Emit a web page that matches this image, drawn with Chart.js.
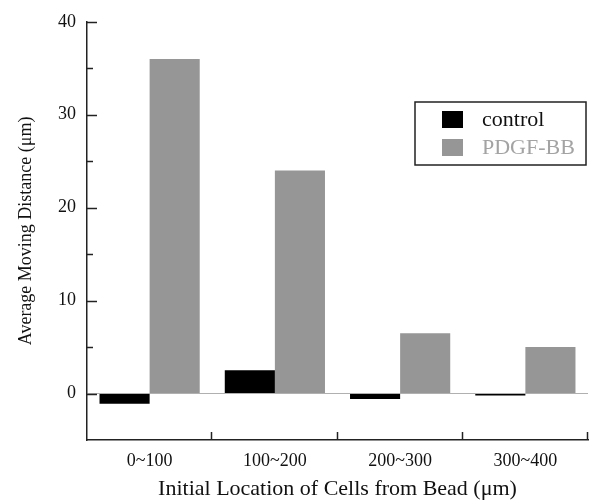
<!DOCTYPE html>
<html>
<head>
<meta charset="utf-8">
<script src="https://cdn.jsdelivr.net/npm/chart.js@4"></script>
<style>
  html, body { margin: 0; padding: 0; background: #fff; }
  #wrap { width: 608px; height: 502px; }
</style>
</head>
<body>
<div id="wrap"><canvas id="c" width="608" height="502"></canvas></div>
<script>
// ---- data ----
const categories = ['0~100', '100~200', '200~300', '300~400'];
const controlValues = [-1.1, 2.5, -0.6, -0.2];
const pdgfValues = [36, 24, 6.5, 5];
const yTickValues = [0, 10, 20, 30, 40];
const seriesNames = ['control', 'PDGF-BB'];
const yTitle = 'Average Moving Distance (\u03bcm)';
const xTitle = 'Initial Location of Cells from Bead (\u03bcm)';

const FONT = "'Liberation Serif', 'Times New Roman', Times, serif";

const tickPlugin = {
  id: 'innerTicks',
  afterDatasetsDraw(chart) {
    const ctx = chart.ctx;
    const y = chart.scales.y, x = chart.scales.x;
    const left = chart.chartArea.left, bottom = chart.chartArea.bottom;
    ctx.save();
    ctx.strokeStyle = '#222';
    ctx.lineWidth = 1.5;
    yTickValues.forEach(v => {
      const py = Math.round(y.getPixelForValue(v)) + 0.5;
      ctx.beginPath(); ctx.moveTo(left, py); ctx.lineTo(left + 10, py); ctx.stroke();
    });
    for (let i = 0; i < yTickValues.length - 1; i++) {
      const v = (yTickValues[i] + yTickValues[i + 1]) / 2;
      const py = Math.round(y.getPixelForValue(v)) + 0.5;
      ctx.beginPath(); ctx.moveTo(left, py); ctx.lineTo(left + 6, py); ctx.stroke();
    }
    for (let i = 0; i < categories.length; i++) {
      const px = Math.round(x.getPixelForValue(i + 0.5)) - 0.5;
      ctx.beginPath(); ctx.moveTo(px, bottom); ctx.lineTo(px, bottom - 8); ctx.stroke();
    }
    ctx.restore();
  }
};

const legendPlugin = {
  id: 'boxLegend',
  afterDraw(chart) {
    const ctx = chart.ctx;
    const bx = 415, by = 102, bw = 171, bh = 63;
    ctx.save();
    ctx.strokeStyle = '#222';
    ctx.lineWidth = 1.5;
    ctx.strokeRect(bx, by, bw, bh);
    const rows = [111, 139];
    chart.data.datasets.forEach((ds, i) => {
      ctx.fillStyle = ds.backgroundColor;
      ctx.fillRect(442, rows[i], 21, 17);
      ctx.fillStyle = i === 0 ? '#111' : '#a3a3a3';
      ctx.font = '22px ' + FONT;
      ctx.textBaseline = 'middle';
      ctx.textAlign = 'left';
      ctx.fillText(ds.label, 482, rows[i] + 9);
    });
    ctx.restore();
  }
};

new Chart(document.getElementById('c'), {
  type: 'bar',
  data: {
    labels: categories,
    datasets: [
      { label: seriesNames[0], data: controlValues, backgroundColor: '#000000', borderWidth: 0 },
      { label: seriesNames[1], data: pdgfValues, backgroundColor: '#969696', borderWidth: 0 }
    ]
  },
  options: {
    responsive: false,
    animation: false,
    devicePixelRatio: 1,
    layout: { padding: { top: 17, right: 20, left: 0, bottom: 0 } },
    plugins: { legend: { display: false }, tooltip: { enabled: false } },
    datasets: { bar: { barPercentage: 1.0, categoryPercentage: 0.8 } },
    scales: {
      x: {
        grid: { display: false, drawTicks: false },
        border: { display: true, color: '#222', width: 1.5 },
        ticks: { color: '#111', font: { family: FONT, size: 18 }, padding: 10, maxRotation: 0 },
        title: { display: true, text: xTitle, color: '#111', font: { family: FONT, size: 22 }, padding: { top: 0, bottom: 0 } },
        afterFit(s) { s.height = 62; }
      },
      y: {
        min: -5, max: 40,
        afterBuildTicks(s) { s.ticks = yTickValues.map(v => ({ value: v })); },
        grid: {
          drawTicks: false,
          color: c => (c.tick && c.tick.value === 0 ? '#b0b0b0' : 'rgba(0,0,0,0)'),
          lineWidth: 1
        },
        border: { display: true, color: '#222', width: 1.5 },
        ticks: { color: '#111', font: { family: FONT, size: 18 }, padding: 11 },
        title: { display: true, text: yTitle, color: '#111', font: { family: FONT, size: 18 }, padding: { top: 15, bottom: 0 } },
        afterFit(s) { s.width = 87; }
      }
    }
  },
  plugins: [tickPlugin, legendPlugin]
});
</script>
</body>
</html>
